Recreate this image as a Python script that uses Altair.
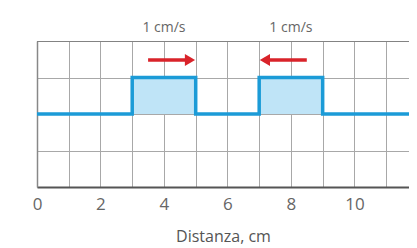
import altair as alt
import pandas as pd

# Step signal (distance in cm, level)
step_x = [0, 3, 3, 5, 5, 7, 7, 9, 9, 12]
step_y = [2, 2, 3, 3, 2, 2, 3, 3, 2, 2]

# Shaded pulses
pulse_id = ["a", "a", "b", "b"]
pulse_x = [3, 5, 7, 9]
pulse_lo = [2, 2, 2, 2]
pulse_hi = [3, 3, 3, 3]

# Speed labels
label_x = [4, 8]
label_y = [4.36, 4.36]
label_txt = ["1 cm/s", "1 cm/s"]

# Arrows: shaft start, shaft end, head position
arrow_x0 = [3.5, 8.5]
arrow_x1 = [4.7, 7.3]
arrow_head = [4.82, 7.18]
arrow_y = [3.48, 3.48]
arrow_shape = ["triangle-right", "triangle-left"]

# Top border of the frame
top_x0 = [0]
top_x1 = [12]
top_y = [4]

x_ticks = list(range(0, 13))
y_ticks = [0, 1, 2, 3, 4]

FONT = "Open Sans"
BLUE = "#1b9bd7"
RED = "#d9232a"
GRID = "#a8a8a8"

step_df = pd.DataFrame({"x": step_x, "y": step_y, "o": list(range(len(step_x)))})
pulse_df = pd.DataFrame({"id": pulse_id, "x": pulse_x, "lo": pulse_lo, "hi": pulse_hi})
label_df = pd.DataFrame({"x": label_x, "y": label_y, "t": label_txt})
arrow_df = pd.DataFrame({"x0": arrow_x0, "x1": arrow_x1, "xh": arrow_head,
                         "y": arrow_y, "shape": arrow_shape})
top_df = pd.DataFrame({"x0": top_x0, "x1": top_x1, "y": top_y})

xscale = alt.Scale(domain=[0, 11.72], nice=False, zero=False)
yscale = alt.Scale(domain=[0, 4], nice=False)

xaxis = alt.Axis(values=x_ticks, title="Distanza, cm",
                 labelExpr="datum.value % 2 == 0 ? datum.label : ''",
                 ticks=False, grid=True, gridColor=GRID, gridWidth=1,
                 domainColor="#555555", domainWidth=2,
                 labelFont=FONT, labelFontSize=17, labelColor="#666666",
                 labelPadding=9, labelFlush=False,
                 titleFont=FONT, titleFontSize=16, titleFontWeight="normal",
                 titleColor="#555555", titlePadding=16)
yaxis = alt.Axis(values=y_ticks, title=None, labels=False, ticks=False,
                 grid=True, gridColor=GRID, gridWidth=1,
                 domainColor="#888888", domainWidth=1.5)

X = lambda f: alt.X(f, scale=xscale, axis=xaxis)
Y = lambda f: alt.Y(f, scale=yscale, axis=yaxis)

area = alt.Chart(pulse_df).mark_area(color="#bfe4f7", opacity=1).encode(
    x=X("x:Q"), y=Y("lo:Q"), y2="hi:Q", detail="id:N",
)

line = alt.Chart(step_df).mark_line(color=BLUE, strokeWidth=3.5, clip=True).encode(
    x=X("x:Q"), y=Y("y:Q"), order="o:Q",
)

top = alt.Chart(top_df).mark_rule(color="#777777", strokeWidth=1.5, clip=True).encode(
    x=X("x0:Q"), x2="x1:Q", y=Y("y:Q"),
)

shaft = alt.Chart(arrow_df).mark_rule(color=RED, strokeWidth=3.5).encode(
    x=X("x0:Q"), x2="x1:Q", y=Y("y:Q"),
)

head = alt.Chart(arrow_df).mark_point(color=RED, filled=True, opacity=1, size=140).encode(
    x=X("xh:Q"), y=Y("y:Q"),
    shape=alt.Shape("shape:N", scale=None),
)

labels = alt.Chart(label_df).mark_text(font=FONT, fontSize=14, color="#666666").encode(
    x=X("x:Q"), y=Y("y:Q"), text="t:N",
)

chart = alt.layer(area, line, top, shaft, head, labels).properties(
    width=372, height=146,
    autosize=alt.AutoSizeParams(type="none"),
    padding={"left": 29, "top": 33, "right": 0, "bottom": 62},
).configure_view(stroke=None)

chart.save("out.html", embed_options={"renderer": "svg", "actions": False})
